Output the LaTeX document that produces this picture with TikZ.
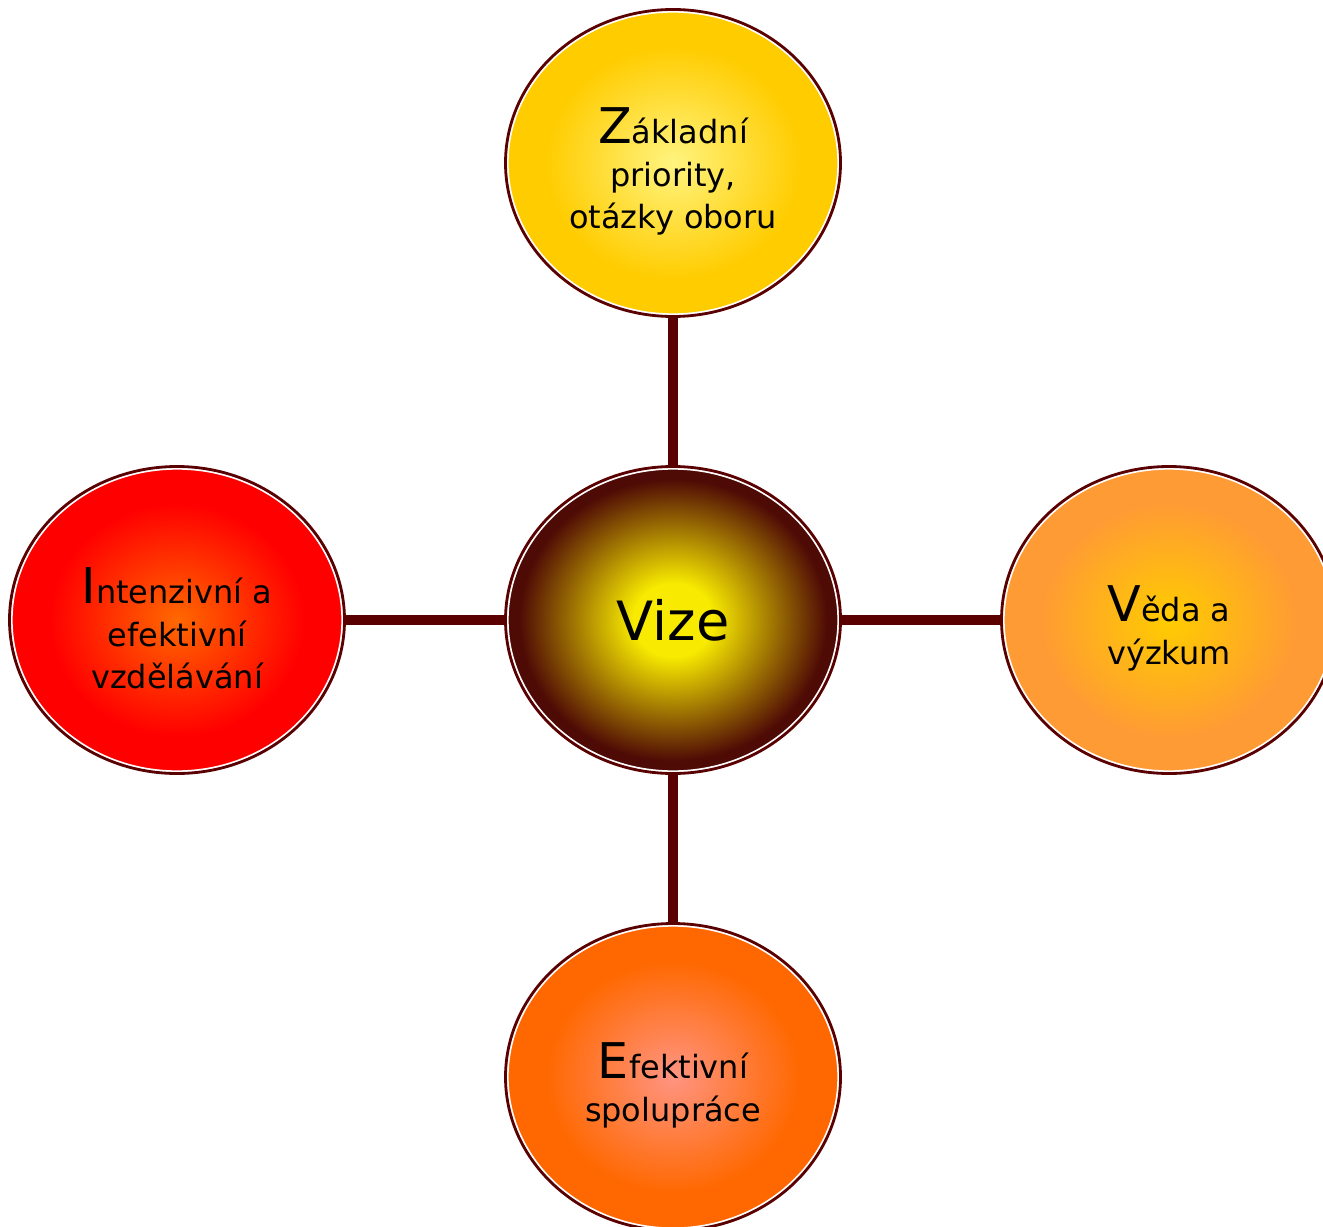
\documentclass[tikz,border=0pt]{standalone}
\usepackage{fontspec}
\setmainfont{DejaVu Sans}
\usetikzlibrary{shapes.geometric}

\definecolor{rim}{RGB}{90,0,0}
\definecolor{vizedark}{RGB}{78,10,5}
\definecolor{vizecore}{RGB}{248,234,0}
\definecolor{goldout}{RGB}{255,204,0}
\definecolor{goldin}{RGB}{255,244,128}
\definecolor{redout}{RGB}{255,0,0}
\definecolor{redin}{RGB}{255,104,0}
\definecolor{ambout}{RGB}{255,155,52}
\definecolor{ambin}{RGB}{255,204,0}
\definecolor{orgout}{RGB}{255,104,0}
\definecolor{orgin}{RGB}{255,148,130}

% radial glows (the node rim sits at about 32bp)
\newcommand\glow[3]{\pgfdeclareradialshading{#1}{\pgfpointorigin}{%
  color(0bp)=(#2); color(19bp)=(#3); color(50bp)=(#3)}}
\glow{goldglow}{goldin}{goldout}
\glow{redglow}{redin}{redout}
\glow{ambglow}{ambin}{ambout}
\glow{orgglow}{orgin}{orgout}
\pgfdeclareradialshading{vizeglow}{\pgfpointorigin}{%
  color(0bp)=(vizecore); color(6bp)=(vizecore);
  color(23bp)=(vizedark); color(50bp)=(vizedark)}

% enlarged first letter of each label
\newcommand\firstch[1]{{\fontsize{14}{12}\selectfont\rule{0pt}{15pt}#1}}

\begin{document}
\begin{tikzpicture}[
  bubble/.style={
    ellipse, minimum width=3.35cm, minimum height=3.07cm,
    inner sep=0pt, align=center,
    font=\fontsize{9.1}{12}\selectfont,
    postaction={draw=white, line width=1.8pt},
    postaction={draw=rim, line width=0.8pt},
  },
  hub/.style={bubble, shading=vizeglow, font=\fontsize{15.4}{18}\selectfont},
  spoke/.style={draw=rim, line width=3.1pt},
]

\useasboundingbox (0,0) rectangle (13.23,12.26);

% spacing of the four outer bubbles from the hub
\def\dx{4.96}
\def\dy{4.57}

\node[hub] (vize) at (6.73,6.06) {Vize};

\node[bubble, shading=goldglow] (zaklad) at (6.73,6.06+\dy)
  {\firstch{Z}ákladní\\priority,\\otázky oboru};
\node[bubble, shading=redglow] (vzdel) at (6.73-\dx,6.06)
  {\firstch{I}ntenzivní a\\efektivní\\vzdělávání};
\node[bubble, shading=ambglow] (veda) at (6.73+\dx,6.06)
  {\firstch{V}ěda a\\výzkum};
\node[bubble, shading=orgglow] (spolu) at (6.73,6.06-\dy)
  {\firstch{E}fektivní\\spolupráce};

% spokes
\draw[spoke] (vize) -- (zaklad);
\draw[spoke] (vize) -- (vzdel);
\draw[spoke] (vize) -- (veda);
\draw[spoke] (vize) -- (spolu);

\end{tikzpicture}
\end{document}
